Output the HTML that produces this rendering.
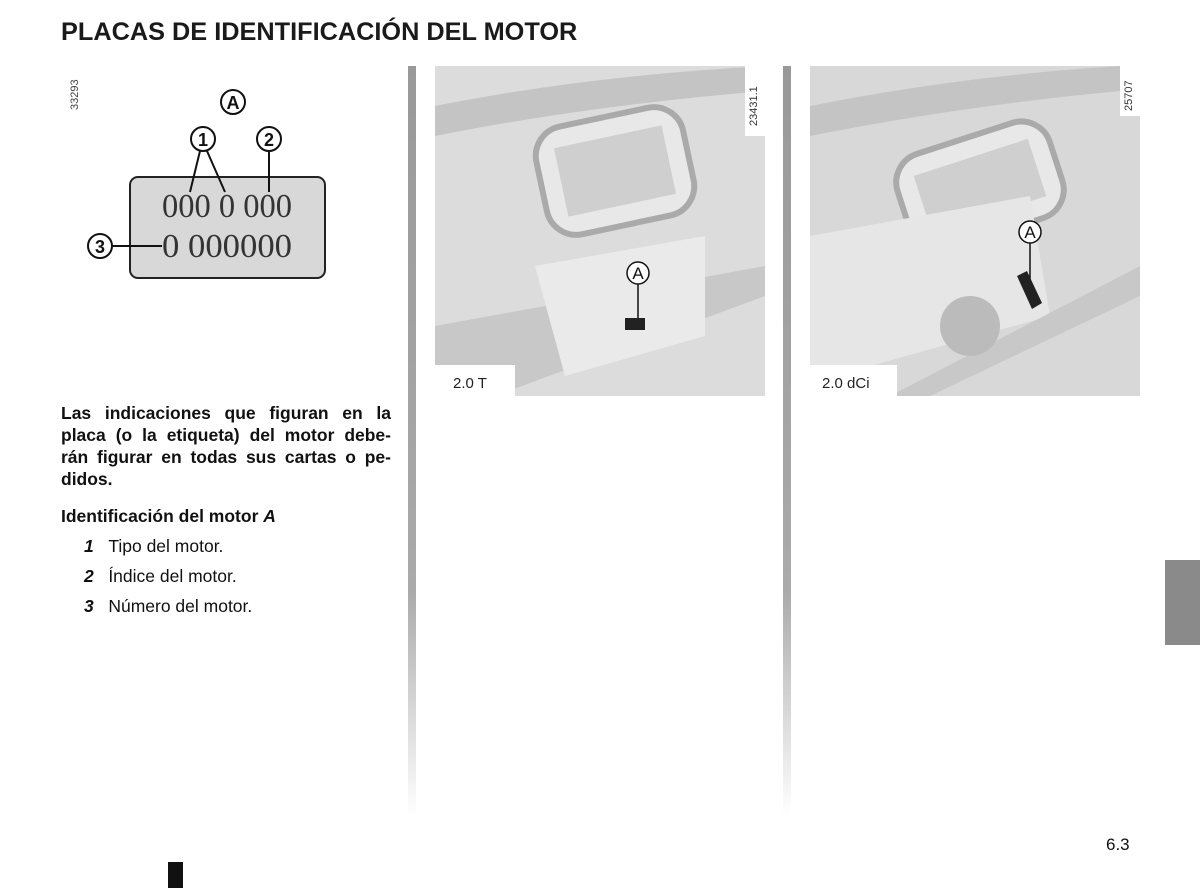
<!DOCTYPE html>
<html><head><meta charset="utf-8"><style>
body{margin:0;width:1200px;height:888px;background:#fff;position:relative;overflow:hidden;font-family:"Liberation Sans",sans-serif;color:#111}
.a{position:absolute}
.bar{position:absolute;width:8px;top:66px;height:750px;background:linear-gradient(#999 0%,#aaa 70%,#fff 100%)}
p{margin:0}
.t{font-size:17.5px;line-height:22px}
.j{display:block;text-align:justify;text-align-last:justify}
</style></head><body>
<div class="a" style="left:61px;top:18px;font-size:25.3px;font-weight:bold;color:#1a1a1a">PLACAS DE IDENTIFICACIÓN DEL MOTOR</div>
<div class="bar" style="left:408px"></div>
<div class="bar" style="left:783px"></div>
<div class="a" style="left:1165px;top:560px;width:35px;height:85px;background:#8a8a8a"></div>
<div class="a" style="left:168px;top:862px;width:15px;height:26px;background:#111"></div>
<div class="a" style="left:1106px;top:835px;font-size:17px">6.3</div>

<svg class="a" style="left:50px;top:60px" width="360" height="240">
<text x="28" y="50" transform="rotate(-90 28 50)" font-size="11" fill="#444" font-family="Liberation Sans">33293</text>
<g stroke="#111" stroke-width="2" fill="#fff">
<circle cx="183" cy="42" r="12"/><circle cx="153" cy="79" r="12"/><circle cx="219" cy="79" r="12"/><circle cx="50" cy="186" r="12"/>
</g>
<rect x="80" y="117" width="195" height="101" rx="8" fill="#d8d8d8" stroke="#222" stroke-width="2"/>
<g stroke="#111" stroke-width="2"><line x1="150" y1="91" x2="140" y2="132"/><line x1="157" y1="91" x2="175" y2="132"/><line x1="219" y1="91" x2="219" y2="132"/><line x1="62" y1="186" x2="112" y2="186"/></g>
<g font-family="Liberation Sans" font-weight="bold" font-size="18" text-anchor="middle" fill="#111">
<text x="183" y="49">A</text><text x="153" y="86">1</text><text x="219" y="86">2</text><text x="50" y="193">3</text></g>
<g font-family="Liberation Serif" font-size="34" fill="#333"><text x="112" y="157" textLength="130" lengthAdjust="spacingAndGlyphs">000 0 000</text><text x="112" y="197" textLength="130" lengthAdjust="spacingAndGlyphs">0  000000</text></g>
</svg>

<svg class="a" style="left:435px;top:66px" width="330" height="330">
<rect width="330" height="330" fill="#dcdcdc"/>
<path d="M0 40 Q150 10 330 0 L330 25 Q150 40 0 70Z" fill="#c4c4c4"/>
<rect x="105" y="50" width="150" height="110" rx="30" fill="#e8e8e8" stroke="#aaa" stroke-width="6" transform="rotate(-12 180 105)"/>
<rect x="125" y="70" width="110" height="70" fill="#cfcfcf" transform="rotate(-12 180 105)"/>
<path d="M0 260 L330 200 L330 230 L60 330 L0 330Z" fill="#c8c8c8"/>
<path d="M100 200 L270 170 L270 270 L130 310Z" fill="#eaeaea"/>
<rect x="0" y="299" width="80" height="31" fill="#fff"/>
<text x="18" y="322" font-size="15" font-family="Liberation Sans" fill="#222">2.0 T</text>
<rect x="310" y="0" width="20" height="70" fill="#fff"/>
<text x="322" y="60" transform="rotate(-90 322 60)" font-size="11" font-family="Liberation Sans" fill="#333">23431.1</text>
<circle cx="203" cy="207" r="11" fill="#fff" stroke="#111" stroke-width="1.5"/>
<text x="203" y="213" font-size="17" text-anchor="middle" font-family="Liberation Sans" fill="#111">A</text>
<line x1="203" y1="218" x2="203" y2="255" stroke="#111" stroke-width="1.5"/>
<rect x="190" y="252" width="20" height="12" fill="#222"/>
</svg>

<svg class="a" style="left:810px;top:66px" width="330" height="330">
<rect width="330" height="330" fill="#d8d8d8"/>
<path d="M0 40 Q150 10 310 0 L310 25 Q150 40 0 70Z" fill="#c4c4c4"/>
<rect x="90" y="70" width="160" height="100" rx="30" fill="#e8e8e8" stroke="#aaa" stroke-width="6" transform="rotate(-18 170 120)"/>
<rect x="110" y="90" width="120" height="60" fill="#cfcfcf" transform="rotate(-18 170 120)"/>
<path d="M0 170 L220 130 L240 250 L60 300 L0 300Z" fill="#e6e6e6"/>
<path d="M80 330 L330 200 L330 230 L120 330Z" fill="#c8c8c8"/>
<circle cx="160" cy="260" r="30" fill="#bbb"/>
<rect x="0" y="299" width="87" height="31" fill="#fff"/>
<text x="12" y="322" font-size="15" font-family="Liberation Sans" fill="#222">2.0 dCi</text>
<rect x="310" y="0" width="20" height="50" fill="#fff"/>
<text x="322" y="45" transform="rotate(-90 322 45)" font-size="11" font-family="Liberation Sans" fill="#333">25707</text>
<circle cx="220" cy="166" r="11" fill="#fff" stroke="#111" stroke-width="1.5"/>
<text x="220" y="172" font-size="17" text-anchor="middle" font-family="Liberation Sans" fill="#111">A</text>
<line x1="220" y1="177" x2="220" y2="215" stroke="#111" stroke-width="1.5"/>
<path d="M207 210 L217 205 L232 237 L222 243Z" fill="#222"/>
</svg>

<div class="a t" style="left:61px;top:402px;width:330px;font-weight:bold">
<span class="j">Las indicaciones que figuran en la</span>
<span class="j">placa (o la etiqueta) del motor debe-</span>
<span class="j">rán figurar en todas sus cartas o pe-</span>
<span style="display:block">didos.</span></div>
<div class="a t" style="left:61px;top:505px;font-weight:bold">Identificación del motor <i>A</i></div>
<div class="a t" style="left:84px;top:535px"><b><i>1</i></b>&nbsp;&nbsp;&nbsp;Tipo del motor.</div>
<div class="a t" style="left:84px;top:565px"><b><i>2</i></b>&nbsp;&nbsp;&nbsp;Índice del motor.</div>
<div class="a t" style="left:84px;top:595px"><b><i>3</i></b>&nbsp;&nbsp;&nbsp;Número del motor.</div>
</body></html>
